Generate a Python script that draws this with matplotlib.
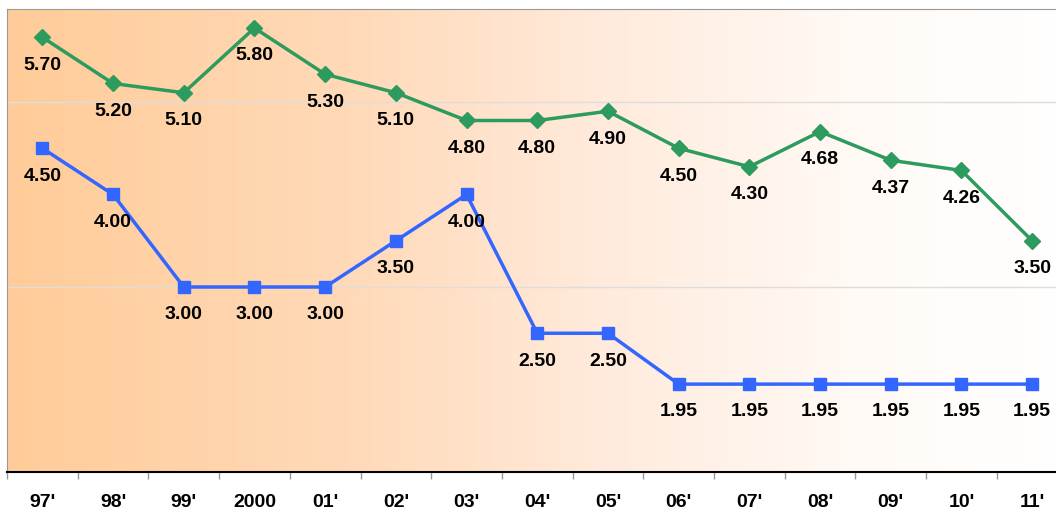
import numpy as np
import matplotlib.pyplot as plt
from matplotlib.colors import LinearSegmentedColormap

plt.rcParams["font.family"] = ["Liberation Sans", "DejaVu Sans"]

years = ["97'", "98'", "99'", "2000", "01'", "02'", "03'", "04'",
         "05'", "06'", "07'", "08'", "09'", "10'", "11'"]
green_vals = [5.70, 5.20, 5.10, 5.80, 5.30, 5.10, 4.80, 4.80,
              4.90, 4.50, 4.30, 4.68, 4.37, 4.26, 3.50]
blue_vals = [4.50, 4.00, 3.00, 3.00, 3.00, 3.50, 4.00, 2.50,
             2.50, 1.95, 1.95, 1.95, 1.95, 1.95, 1.95]

W, H = 1056, 511
fig = plt.figure(figsize=(W / 100, H / 100), dpi=100)
# plot area runs past the right edge of the picture, as in the original
ax = fig.add_axes([7 / W, (H - 472) / H, 15 * 70.7 / W, (472 - 9.5) / H])

x = np.arange(len(years))
ax.set_xlim(-0.5, len(years) - 0.5)
ax.set_ylim(1, 6)

# orange -> white background gradient
cmap = LinearSegmentedColormap.from_list(
    "bg", [(0, "#FFCC99"), (0.33, "#FFDAB9"), (0.57, "#FFEBDD"),
           (0.8, "#FFFAF5"), (1, "#FFFFFF")])
grad = np.linspace(0, 1, 256).reshape(1, -1)
ax.imshow(grad, cmap=cmap, aspect="auto", extent=[-0.5, len(years) - 0.5, 1, 6],
          zorder=0, interpolation="bicubic")

for gy in [3, 5]:
    ax.axhline(gy, color="#DDDDDD", lw=1, zorder=1)

ax.plot(x, green_vals, color="#2E9B5E", lw=2.5, marker="D", ms=8, zorder=3)
ax.plot(x, blue_vals, color="#3366FF", lw=2.5, marker="s", ms=9, zorder=3)

for xi, v in zip(x, green_vals):
    ax.annotate(f"{v:.2f}", (xi, v), xytext=(0, -20), textcoords="offset points",
                ha="center", va="center", fontsize=14, fontweight="bold")
for xi, v in zip(x, blue_vals):
    ax.annotate(f"{v:.2f}", (xi, v), xytext=(0, -20), textcoords="offset points",
                ha="center", va="center", fontsize=14, fontweight="bold")

ax.set_xticks(x)
ax.set_xticklabels(years, fontsize=14, fontweight="bold")
ax.set_xticks(np.arange(-0.5, len(years) + 0.5, 1), minor=True)
ax.tick_params(axis="x", which="major", length=0, pad=16)
ax.tick_params(axis="x", which="minor", length=5, color="#999999", width=1)
ax.set_yticks([])

for s in ["left", "top", "right"]:
    ax.spines[s].set_color("#999999")
ax.spines["bottom"].set_color("black")
ax.spines["bottom"].set_linewidth(1.5)

fig.savefig("out.png", dpi=100)
